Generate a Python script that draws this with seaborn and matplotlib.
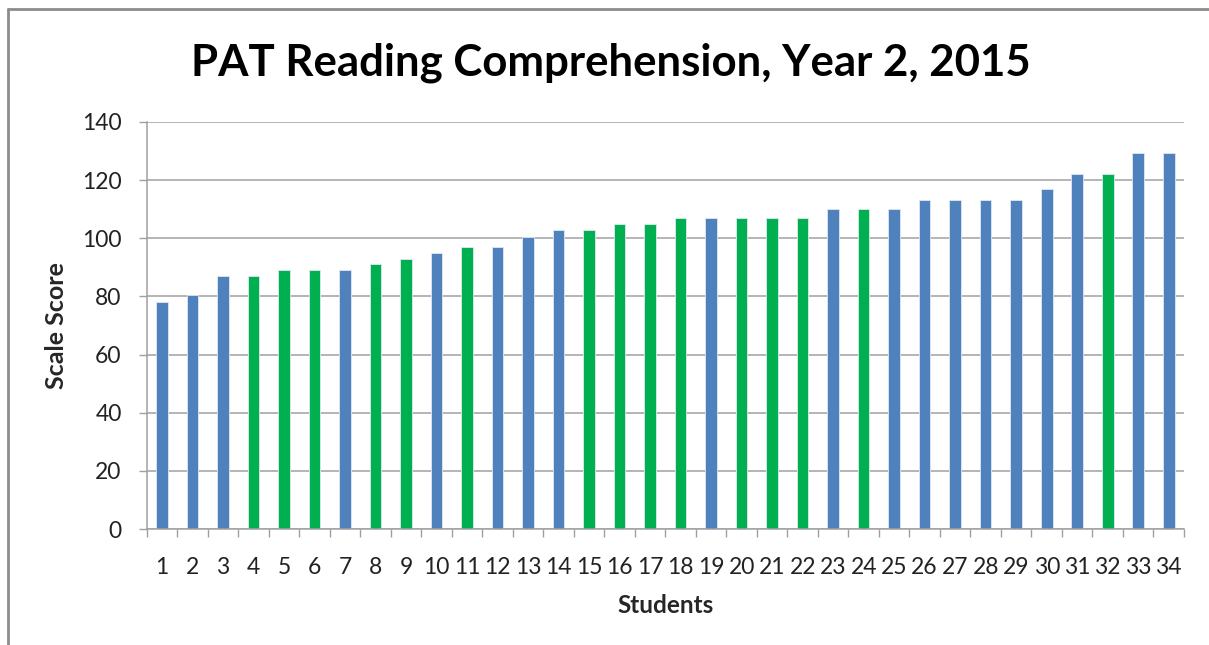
import matplotlib
matplotlib.use("Agg")
import matplotlib.pyplot as plt
import seaborn as sns
import pandas as pd
from matplotlib.lines import Line2D
from matplotlib.ticker import FixedLocator

students = [str(i) for i in range(1, 35)]
scores = [78, 80.5, 87, 87, 89, 89, 89, 91, 93, 95, 97, 97, 100.5, 103, 103, 105, 105,
          107, 107, 107, 107, 107, 110, 110, 110, 113, 113, 113, 113, 117, 122, 122, 129.5, 129.5]
groups = ["B", "B", "B", "G", "G", "G", "B", "G", "G", "B", "G", "B", "B", "B", "G", "G", "G",
          "G", "B", "G", "G", "G", "B", "G", "B", "B", "B", "B", "B", "B", "B", "G", "B", "B"]
palette = {"B": "#4F81BD", "G": "#00B050"}
title = "PAT Reading Comprehension, Year 2, 2015"
y_ticks = [0, 20, 40, 60, 80, 100, 120, 140]

sns.set_theme(style="white")
plt.rcParams["font.family"] = ["Lato", "DejaVu Sans"]

df = pd.DataFrame({"Student": students, "Score": scores, "Group": groups})

fig = plt.figure(figsize=(12.09, 6.45), dpi=100)
ax = fig.add_axes([146.7 / 1209, 1 - 529 / 645, (1184 - 146.7) / 1209, (529 - 122) / 645])

sns.barplot(data=df, x="Student", y="Score", hue="Group", palette=palette, dodge=False,
            width=0.38, order=students, legend=False, ax=ax, edgecolor="#dfe8f3", linewidth=0.6,
            saturation=1)

ax.set_xlim(-0.5, len(students) - 0.5)
ax.set_ylim(0, 140)
ax.set_yticks(y_ticks)
ax.set_yticklabels([str(v) for v in y_ticks], fontsize=16.5, color="#222222")
ax.yaxis.grid(True, color="#a0a0a0", linewidth=1.1)
ax.set_axisbelow(True)

ax.set_xticks(range(len(students)))
ax.set_xticklabels(students, fontsize=16.5, color="#222222")
ax.xaxis.set_minor_locator(FixedLocator([i - 0.5 for i in range(len(students) + 1)]))
ax.tick_params(axis="x", which="major", length=0, pad=20)
ax.tick_params(axis="x", which="minor", length=6, width=1, color="#a0a0a0", bottom=True)
ax.tick_params(axis="y", which="major", length=6, width=1, color="#a0a0a0", left=True, pad=12)

for side in ["top", "right"]:
    ax.spines[side].set_visible(False)
for side in ["left", "bottom"]:
    ax.spines[side].set_color("#a0a0a0")
    ax.spines[side].set_linewidth(1.1)

ax.set_xlabel("Students", fontsize=17.5, fontweight="bold", labelpad=12)
ax.set_ylabel("Scale Score", fontsize=18, fontweight="bold", labelpad=10)

fig.text(0.505, 1 - 63 / 645, title, ha="center", va="center", fontsize=31.5, fontweight="bold",
         color="#000000")

# outer chart frame
fig.add_artist(Line2D([8 / 1209, 8 / 1209], [0, 1 - 9 / 645], transform=fig.transFigure,
                      color="#8c8c8c", linewidth=2))
fig.add_artist(Line2D([8 / 1209, 1], [1 - 9 / 645, 1 - 9 / 645], transform=fig.transFigure,
                      color="#8c8c8c", linewidth=2))

fig.savefig("out.png", dpi=100, facecolor="white")
